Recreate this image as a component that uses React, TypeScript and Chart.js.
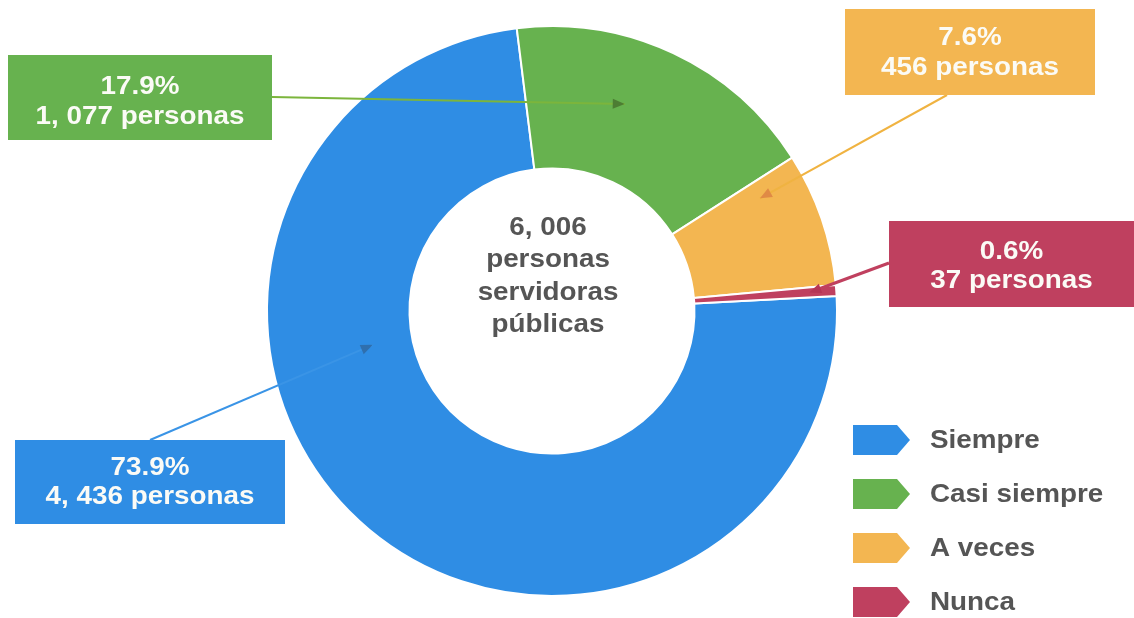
import React, { useEffect, useRef } from "react";
import { Chart, registerables } from "chart.js";

Chart.register(...registerables);

// ---- data ----
const categories = ["Siempre", "Casi siempre", "A veces", "Nunca"];
const personas = [4436, 1077, 456, 37];
const percentLabels = ["73.9%", "17.9%", "7.6%", "0.6%"];
const countLabels = ["4, 436 personas", "1, 077 personas", "456 personas", "37 personas"];
const sliceColors = ["#2f8de4", "#67b24f", "#f3b651", "#bf405f"];
const centerLines = ["6, 006", "personas", "servidoras", "públicas"];

// ---- annotation layout (positions / styles only) ----
const FONT = '"Liberation Sans", Arial, sans-serif';
const STRETCH = 1.07;

type Callout = {
  box: [number, number, number, number];
  textY: [number, number];
  from: [number, number];
  angleFrac: number;
  radiusFrac: number;
  line: string;
  head: string;
  width: number;
};

const callouts: Callout[] = [
  { box: [15, 440, 270, 84], textY: [468, 497], from: [150, 440], angleFrac: 0.648, radiusFrac: 0.28, line: "#3a94e6", head: "#2f6fae", width: 2 },
  { box: [8, 55, 264, 85], textY: [87, 117], from: [272, 97], angleFrac: 0.41, radiusFrac: 0.54, line: "#7cb53c", head: "#4d7d33", width: 2 },
  { box: [845, 9, 250, 86], textY: [38, 68], from: [947, 95], angleFrac: 0.15, radiusFrac: 0.66, line: "#f0b341", head: "#e08a45", width: 2 },
  { box: [889, 221, 245, 86], textY: [252, 281], from: [889, 263], angleFrac: 0.5, radiusFrac: 0.81, line: "#c0405f", head: "#b53556", width: 3 },
];

const legendLayout = { markerX: 853, markerW: 44, tipW: 13, markerH: 30, textX: 930, startY: 440, step: 54 };

function stretchedText(
  ctx: CanvasRenderingContext2D,
  text: string,
  x: number,
  y: number,
  color: string,
  align: CanvasTextAlign,
  size = 26
) {
  ctx.save();
  ctx.translate(x, y);
  ctx.scale(STRETCH, 1);
  ctx.font = `bold ${size}px ${FONT}`;
  ctx.fillStyle = color;
  ctx.textAlign = align;
  ctx.textBaseline = "middle";
  ctx.fillText(text, 0, 0);
  ctx.restore();
}

const annotationPlugin = {
  id: "annotations",
  afterDatasetsDraw(chart: any) {
    const ctx: CanvasRenderingContext2D = chart.ctx;
    const meta = chart.getDatasetMeta(0);
    const arcs = meta.data;
    if (!arcs.length) return;
    const cx = arcs[0].x;
    const cy = arcs[0].y;

    // center text
    const centerYs = [228, 260, 293, 325];
    centerLines.forEach((t, i) => stretchedText(ctx, t, cx - 4, centerYs[i], "#555555", "center", 26));

    // callouts
    callouts.forEach((c, i) => {
      const arc = arcs[i];
      const p = arc.getProps(["x", "y", "startAngle", "endAngle", "innerRadius", "outerRadius"], true);
      const a = p.startAngle + c.angleFrac * (p.endAngle - p.startAngle);
      const r = p.innerRadius + c.radiusFrac * (p.outerRadius - p.innerRadius);
      const tx = p.x + r * Math.cos(a);
      const ty = p.y + r * Math.sin(a);
      const [fx, fy] = c.from;

      ctx.save();
      ctx.strokeStyle = c.line;
      ctx.lineWidth = c.width;
      ctx.beginPath();
      ctx.moveTo(fx, fy);
      ctx.lineTo(tx, ty);
      ctx.stroke();
      // arrow head
      const ang = Math.atan2(ty - fy, tx - fx);
      const L = 12;
      const W = 5;
      ctx.fillStyle = c.head;
      ctx.beginPath();
      ctx.moveTo(tx, ty);
      ctx.lineTo(tx - L * Math.cos(ang) + W * Math.sin(ang), ty - L * Math.sin(ang) - W * Math.cos(ang));
      ctx.lineTo(tx - L * Math.cos(ang) - W * Math.sin(ang), ty - L * Math.sin(ang) + W * Math.cos(ang));
      ctx.closePath();
      ctx.fill();
      ctx.restore();

      const [bx, by, bw, bh] = c.box;
      ctx.save();
      ctx.fillStyle = sliceColors[i];
      ctx.fillRect(bx, by, bw, bh);
      ctx.restore();
      const mid = bx + bw / 2;
      stretchedText(ctx, percentLabels[i], mid, c.textY[0], "#fbfbf6", "center", 26);
      stretchedText(ctx, countLabels[i], mid, c.textY[1], "#fbfbf6", "center", 26);
    });

    // legend
    const L = legendLayout;
    categories.forEach((name, i) => {
      const y = L.startY + i * L.step;
      ctx.save();
      ctx.fillStyle = sliceColors[i];
      ctx.beginPath();
      ctx.moveTo(L.markerX, y - L.markerH / 2);
      ctx.lineTo(L.markerX + L.markerW, y - L.markerH / 2);
      ctx.lineTo(L.markerX + L.markerW + L.tipW, y);
      ctx.lineTo(L.markerX + L.markerW, y + L.markerH / 2);
      ctx.lineTo(L.markerX, y + L.markerH / 2);
      ctx.closePath();
      ctx.fill();
      ctx.restore();
      stretchedText(ctx, name, L.textX, y + 1, "#555555", "left", 26);
    });
  },
};

export default function App() {
  const canvasRef = useRef<HTMLCanvasElement | null>(null);

  useEffect(() => {
    if (!canvasRef.current) return;
    const chart = new Chart(canvasRef.current, {
      type: "doughnut",
      data: {
        labels: categories,
        datasets: [
          {
            data: personas,
            backgroundColor: sliceColors,
            borderColor: "#ffffff",
            borderWidth: 2,
          },
        ],
      },
      options: {
        responsive: false,
        animation: false,
        events: [],
        rotation: 87,
        cutout: "50%",
        layout: { padding: { left: 0, right: 30, top: 25, bottom: 21 } },
        plugins: {
          legend: { display: false },
          tooltip: { enabled: false },
          title: { display: false },
        },
      },
      plugins: [annotationPlugin],
    });
    return () => chart.destroy();
  }, []);

  return (
    <div style={{ position: "fixed", left: 0, top: 0, width: 1134, height: 618, background: "#ffffff" }}>
      <canvas ref={canvasRef} width={1134} height={618} style={{ display: "block" }} />
    </div>
  );
}
